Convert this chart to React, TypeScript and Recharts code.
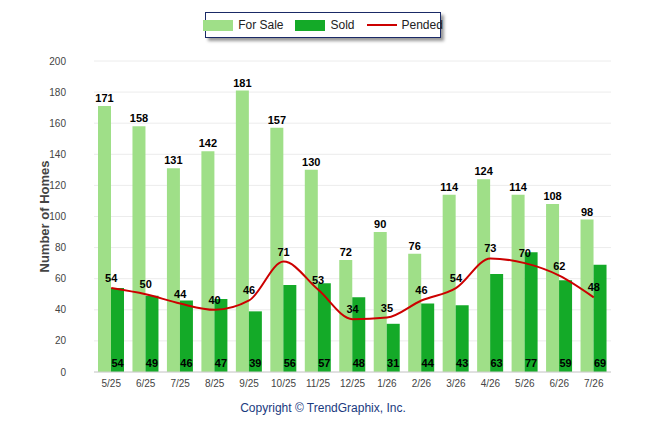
import React from 'react';
import { ComposedChart, Bar, Line, XAxis, YAxis, CartesianGrid, LabelList, Label } from 'recharts';

const months = ['5/25', '6/25', '7/25', '8/25', '9/25', '10/25', '11/25', '12/25', '1/26', '2/26', '3/26', '4/26', '5/26', '6/26', '7/26'];
const forSale = [171, 158, 131, 142, 181, 157, 130, 72, 90, 76, 114, 124, 114, 108, 98];
const sold = [54, 49, 46, 47, 39, 56, 57, 48, 31, 44, 43, 63, 77, 59, 69];
const pended = [54, 50, 44, 40, 46, 71, 53, 34, 35, 46, 54, 73, 70, 62, 48];
const yTicks = [0, 20, 40, 60, 80, 100, 120, 140, 160, 180, 200];

const data = months.map((m, i) => ({ month: m, forSale: forSale[i], sold: sold[i], pended: pended[i] }));

const FONT = 'Arial, "Liberation Sans", sans-serif';

const BottomLabel = (props: any) => {
  const { x, y, width, height, value } = props;
  return (
    <text x={x + width / 2} y={y + height - 5} textAnchor="middle" fontSize={11} fontWeight="bold" fill="#000" fontFamily={FONT}>
      {value}
    </text>
  );
};

export default function App() {
  return (
    <div style={{ position: 'absolute', left: 0, top: 0, width: 646, height: 434, background: '#fff', fontFamily: FONT }}>
      <ComposedChart
        width={646}
        height={434}
        data={data}
        margin={{ top: 61, right: 35, left: 64, bottom: 42 }}
        barGap={0}
        barSize={13}
      >
        <CartesianGrid vertical={false} stroke="#ececec" />
        <XAxis dataKey="month" tick={{ fontSize: 10, fill: '#444' }} tickLine={false} axisLine={{ stroke: '#ccc' }} height={20} />
        <YAxis
          domain={[0, 200]}
          ticks={yTicks}
          width={30}
          tickMargin={22}
          tick={{ fontSize: 10, fill: '#444' }}
          tickLine={false}
          axisLine={false}
        >
          <Label value="Number of Homes" angle={-90} position="insideLeft" offset={-20} style={{ fontSize: 13, fontWeight: 'bold', fill: '#444', textAnchor: 'middle' }} />
        </YAxis>
        <Bar dataKey="forSale" fill="#9fdf88" isAnimationActive={false}>
          <LabelList dataKey="forSale" position="top" offset={4} style={{ fontSize: 11, fontWeight: 'bold', fill: '#000' }} />
        </Bar>
        <Bar dataKey="sold" fill="#14aa28" isAnimationActive={false}>
          <LabelList dataKey="sold" content={BottomLabel} />
        </Bar>
        <Line type="monotone" dataKey="pended" stroke="#cc0000" strokeWidth={2} dot={false} isAnimationActive={false}>
          <LabelList dataKey="pended" position="top" offset={6} style={{ fontSize: 11, fontWeight: 'bold', fill: '#000' }} />
        </Line>
      </ComposedChart>
      <div
        style={{
          position: 'absolute', left: 205, top: 12, width: 236, height: 26, border: '1px solid #1a2a66',
          boxShadow: '3px 3px 3px #999', background: '#fff', display: 'flex', alignItems: 'center',
          justifyContent: 'center', fontSize: 12, color: '#222', gap: 12, boxSizing: 'border-box', whiteSpace: 'nowrap',
        }}
      >
        <span style={{ display: 'flex', alignItems: 'center' }}>
          <span style={{ width: 30, height: 11, background: '#9fdf88', marginRight: 5 }} />For Sale
        </span>
        <span style={{ display: 'flex', alignItems: 'center' }}>
          <span style={{ width: 30, height: 11, background: '#14aa28', marginRight: 5 }} />Sold
        </span>
        <span style={{ display: 'flex', alignItems: 'center' }}>
          <span style={{ width: 30, height: 2, background: '#cc0000', marginRight: 5 }} />Pended
        </span>
      </div>
      <div style={{ position: 'absolute', left: 0, width: 646, top: 401, textAlign: 'center', fontSize: 12, color: '#1a3a80' }}>
        Copyright © TrendGraphix, Inc.
      </div>
    </div>
  );
}
